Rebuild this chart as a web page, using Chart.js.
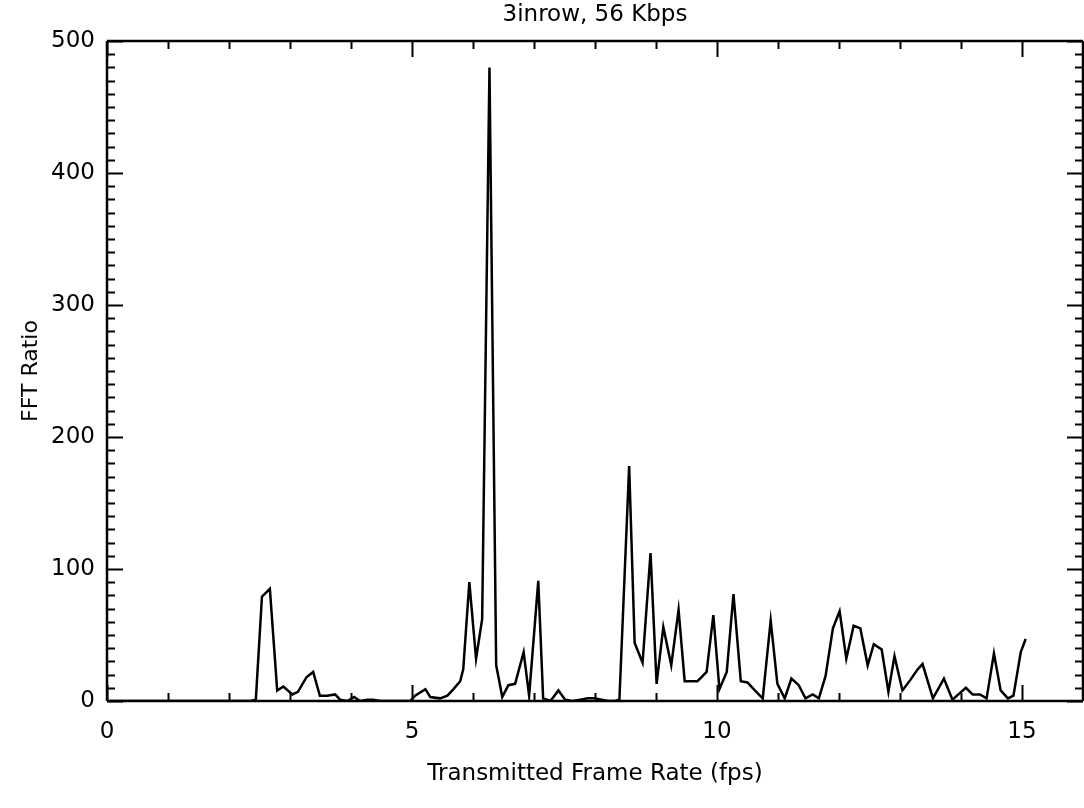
<!DOCTYPE html>
<html>
<head>
<meta charset="utf-8">
<script src="https://cdn.jsdelivr.net/npm/chart.js@4.4.1/dist/chart.umd.min.js"></script>
<style>
  html, body { margin: 0; padding: 0; background: #fff; }
  #wrap { width: 1084px; height: 808px; }
</style>
</head>
<body>
<div id="wrap"><canvas id="c" width="1084" height="808"></canvas></div>
<script>
const chartTitle = "3inrow, 56 Kbps";
const xTitle = "Transmitted Frame Rate (fps)";
const yTitle = "FFT Ratio";

// Frame rate (fps)
const frameRate = [0, 1.0, 2.0, 2.35, 2.44, 2.54, 2.67, 2.79, 2.89, 3.04, 3.13, 3.27, 3.38, 3.49, 3.61, 3.74, 3.82, 3.94,
  4.05, 4.15, 4.27, 4.36, 4.48, 4.81, 4.97, 5.05, 5.22, 5.30, 5.46, 5.58, 5.68, 5.79, 5.84, 5.94,
  6.05, 6.15, 6.27, 6.38, 6.48, 6.58, 6.69, 6.83, 6.92, 7.07, 7.15, 7.27, 7.40, 7.51, 7.63, 7.76,
  7.88, 7.99, 8.11, 8.22, 8.33, 8.40, 8.56, 8.65, 8.78, 8.91, 9.01, 9.12, 9.25, 9.37, 9.47, 9.58,
  9.68, 9.83, 9.94, 10.04, 10.16, 10.27, 10.39, 10.50, 10.62, 10.75, 10.88, 10.99, 11.11, 11.22,
  11.34, 11.45, 11.57, 11.67, 11.78, 11.90, 12.01, 12.12, 12.24, 12.35, 12.47, 12.57, 12.70, 12.81,
  12.91, 13.04, 13.17, 13.29, 13.37, 13.54, 13.72, 13.86, 13.98, 14.08, 14.19, 14.31, 14.42, 14.54,
  14.65, 14.77, 14.86, 14.98, 15.06];

// FFT ratio
const fftRatio = [0, 0, 0, 0, 1, 79, 85, 8, 11, 5, 7, 18, 22, 4, 4, 5, 1, 0,
  3, 0, 1, 1, 0, 0, 0, 4, 9, 3, 2, 4, 9, 15, 24, 90,
  32, 62, 480, 27, 3, 12, 13, 37, 4, 91, 2, 0, 8, 1, 0, 1,
  2, 2, 1, 0, 0, 1, 178, 44, 29, 112, 13, 56, 27, 69, 15, 15,
  15, 22, 65, 9, 22, 81, 15, 14, 8, 2, 61, 13, 2, 17,
  12, 2, 5, 2, 19, 55, 68, 32, 57, 55, 27, 43, 39, 7,
  34, 8, 16, 24, 28, 2, 17, 1, 6, 10, 5, 5, 2, 36,
  8, 2, 4, 37, 47];

const xMajor = [0, 5, 10, 15];
const yMajor = [0, 100, 200, 300, 400, 500];

const FONT = "'DejaVu Sans', sans-serif";

const frameTicks = {
  id: 'frameTicks',
  afterDraw(chart) {
    const ctx = chart.ctx;
    const a = chart.chartArea;
    const xs = chart.scales.x, ys = chart.scales.y;
    ctx.save();
    ctx.strokeStyle = '#000';
    ctx.lineWidth = 2.5;
    ctx.beginPath();
    ctx.moveTo(a.left, a.top); ctx.lineTo(a.right, a.top);
    ctx.moveTo(a.right, a.top); ctx.lineTo(a.right, a.bottom);
    ctx.moveTo(a.left, a.bottom); ctx.lineTo(a.right, a.bottom);
    ctx.moveTo(a.left, a.top); ctx.lineTo(a.left, a.bottom);
    ctx.stroke();
    ctx.lineWidth = 2;
    ctx.beginPath();
    for (let v = xs.min; v <= xs.max; v += 1) {
      const px = Math.round(xs.getPixelForValue(v)) + 0.5;
      const len = xMajor.includes(v) ? 16 : 8;
      ctx.moveTo(px, a.bottom); ctx.lineTo(px, a.bottom - len);
      ctx.moveTo(px, a.top); ctx.lineTo(px, a.top + len);
    }
    for (let v = ys.min; v <= ys.max; v += 10) {
      const py = Math.round(ys.getPixelForValue(v)) + 0.5;
      const len = yMajor.includes(v) ? 16 : 8;
      ctx.moveTo(a.left, py); ctx.lineTo(a.left + len, py);
      ctx.moveTo(a.right, py); ctx.lineTo(a.right - len, py);
    }
    ctx.stroke();
    ctx.restore();
  }
};

new Chart(document.getElementById('c'), {
  type: 'line',
  data: {
    datasets: [{
      data: frameRate.map((x, i) => ({ x: x, y: fftRatio[i] })),
      borderColor: '#000',
      borderWidth: 2.5,
      pointRadius: 0,
      tension: 0,
      fill: false
    }]
  },
  options: {
    responsive: false,
    animation: false,
    devicePixelRatio: 1,
    layout: { padding: { top: 0, right: 1, left: 18, bottom: 20 } },
    plugins: {
      legend: { display: false },
      tooltip: { enabled: false },
      title: {
        display: true,
        text: chartTitle,
        fullSize: false,
        color: '#000',
        font: { family: FONT, size: 23, weight: 'normal', lineHeight: 1.2 },
        padding: { top: 1, bottom: 12.4 }
      }
    },
    scales: {
      x: {
        type: 'linear',
        min: 0, max: 16,
        grid: { display: false, drawTicks: false },
        border: { display: false },
        ticks: {
          stepSize: 5,
          includeBounds: false,
          color: '#000',
          padding: 17,
          maxRotation: 0,
          font: { family: FONT, size: 23 },
          callback: v => (xMajor.includes(v) ? String(v) : '')
        },
        title: {
          display: true, text: xTitle, color: '#000',
          font: { family: FONT, size: 23 },
          padding: { top: 4, bottom: 0 }
        },
        afterFit(s) { s.height = 87; }
      },
      y: {
        min: 0, max: 500,
        grid: { display: false, drawTicks: false },
        border: { display: false },
        ticks: {
          stepSize: 100,
          color: '#000',
          padding: 12,
          font: { family: FONT, size: 23 },
          callback: v => String(v)
        },
        title: {
          display: true, text: yTitle, color: '#000',
          font: { family: FONT, size: 22 },
          padding: { top: 0, bottom: 8 }
        },
        afterFit(s) { s.width = 89; }
      }
    }
  },
  plugins: [frameTicks]
});
</script>
</body>
</html>
